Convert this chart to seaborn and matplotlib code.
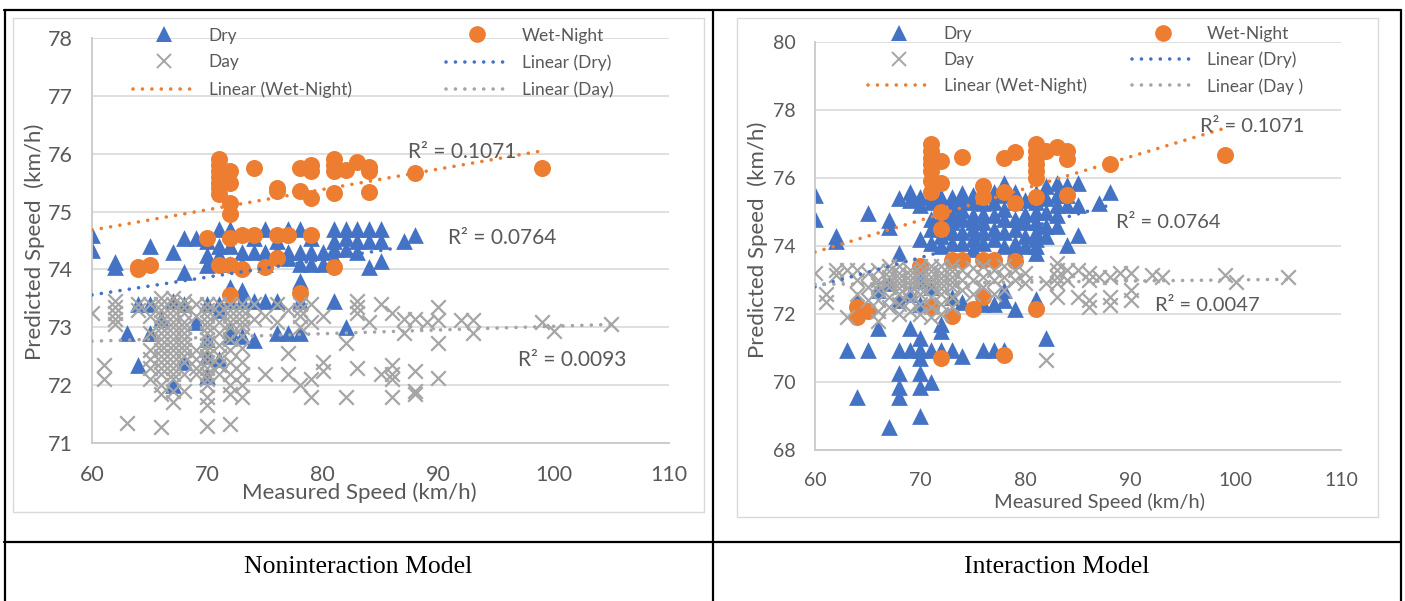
import pandas as pd
import matplotlib.pyplot as plt
from matplotlib.lines import Line2D
from matplotlib.patches import Rectangle
import seaborn as sns

sns.set_style('white')
plt.rcParams['font.family'] = ['Lato', 'DejaVu Sans']

BLUE = '#4472C4'
ORANGE = '#ED7D31'
GRAY = '#A5A5A5'
TEXT = '#595959'
GRID = '#D9D9D9'

# ---- noninteraction model: (measured, predicted) ----
dry_noint = [
    (60, 74.6), (60, 74.33), (62, 74.12), (62, 74.05), (63, 72.9), (64, 73.4), (64, 72.35),
    (65, 74.4), (65, 73.4), (65, 72.9), (66, 73.15), (67, 74.3), (67, 73.45), (67, 72.0),
    (68, 74.55), (68, 73.95), (68, 73.4), (68, 72.4), (69, 74.55), (69, 73.1),
    (70, 74.5), (70, 74.25), (70, 74.07), (70, 73.4), (70, 72.8), (70, 72.5), (70, 72.15),
    (71, 74.7), (71, 74.4), (71, 74.25), (71, 73.4), (71, 73.3), (71, 72.45),
    (72, 74.7), (72, 74.63), (72, 74.4), (72, 74.1), (72, 73.7), (72, 73.45), (72, 72.95), (72, 72.85),
    (73, 74.3), (73, 74.1), (73, 73.65), (73, 73.45), (73, 72.85),
    (74, 74.55), (74, 74.3), (74, 73.45), (74, 72.78),
    (75, 74.7), (75, 74.3), (75, 74.1), (75, 73.45),
    (76, 74.5), (76, 74.3), (76, 73.45), (76, 72.9),
    (77, 74.7), (77, 74.3), (77, 74.2), (77, 72.9),
    (78, 74.7), (78, 74.3), (78, 74.1), (78, 73.8), (78, 73.45), (78, 72.9),
    (79, 74.55), (79, 74.3), (79, 74.1), (80, 74.3), (80, 74.1),
    (81, 74.7), (81, 74.5), (81, 74.35), (81, 74.2), (81, 73.45),
    (82, 74.7), (82, 74.55), (82, 74.35), (82, 73.0),
    (83, 74.7), (83, 74.5), (83, 74.3), (84, 74.7), (84, 74.5), (84, 74.05),
    (85, 74.7), (85, 74.5), (85, 74.15), (87, 74.5), (88, 74.6),
]
wet_noint = [
    (64, 74.05), (64, 74.0), (65, 74.07), (70, 74.55),
    (71, 75.9), (71, 75.8), (71, 75.7), (71, 75.6), (71, 75.5), (71, 75.4), (71, 75.3), (71, 74.07),
    (72, 75.7), (72, 75.5), (72, 75.15), (72, 74.95), (72, 74.55), (72, 74.07), (72, 73.55),
    (73, 74.6), (73, 74.0), (74, 75.75), (74, 74.6), (75, 74.05),
    (76, 75.4), (76, 75.35), (76, 74.6), (76, 74.2), (77, 74.6),
    (78, 75.75), (78, 75.35), (78, 73.6),
    (79, 75.8), (79, 75.7), (79, 75.23), (79, 74.6),
    (81, 75.9), (81, 75.8), (81, 75.7), (81, 75.32), (81, 74.05),
    (82, 75.72), (83, 75.85), (84, 75.77), (84, 75.7), (84, 75.33),
    (88, 75.66), (99, 75.75),
]
day_noint = [
    (60, 73.25), (61, 72.35), (61, 72.1),
    (62, 73.45), (62, 73.35), (62, 73.25), (62, 73.15), (62, 73.05), (63, 71.35),
    (64, 73.4), (64, 73.3), (65, 73.4), (65, 73.2), (65, 72.9), (65, 72.6), (65, 72.45), (65, 72.3), (65, 72.1),
    (66, 73.5), (66, 73.4), (66, 73.3), (66, 73.2), (66, 73.1), (66, 73.0), (66, 72.9), (66, 72.8), (66, 72.7),
    (66, 72.6), (66, 72.5), (66, 72.4), (66, 72.3), (66, 72.2), (66, 72.0), (66, 71.85), (66, 71.28),
    (67, 73.5), (67, 73.4), (67, 73.3), (67, 73.2), (67, 73.1), (67, 73.0), (67, 72.9), (67, 72.8), (67, 72.7),
    (67, 72.6), (67, 72.5), (67, 72.4), (67, 72.3), (67, 72.2), (67, 72.1), (67, 71.9), (67, 71.7),
    (68, 73.45), (68, 73.35), (68, 73.25), (68, 73.1), (68, 73.0), (68, 72.9), (68, 72.8), (68, 72.7),
    (68, 72.6), (68, 72.5), (68, 72.4), (68, 72.2), (68, 71.9),
    (69, 73.4), (69, 73.2), (69, 72.6), (69, 72.45), (69, 72.3), (69, 72.2),
    (70, 73.4), (70, 73.3), (70, 73.2), (70, 73.1), (70, 73.0), (70, 72.9), (70, 72.8), (70, 72.7), (70, 72.6),
    (70, 72.5), (70, 72.4), (70, 72.3), (70, 72.2), (70, 72.1), (70, 72.0), (70, 71.8), (70, 71.65), (70, 71.3),
    (71, 73.4), (71, 73.25), (71, 73.1), (71, 72.9), (71, 72.7), (71, 72.5), (71, 72.35), (71, 72.2),
    (72, 73.4), (72, 73.3), (72, 73.2), (72, 73.1), (72, 73.0), (72, 72.8), (72, 72.6), (72, 72.4), (72, 72.2),
    (72, 72.0), (72, 71.85), (72, 71.33),
    (73, 73.4), (73, 73.3), (73, 73.2), (73, 73.1), (73, 73.0), (73, 72.85), (73, 72.65), (73, 72.4),
    (73, 72.2), (73, 72.0), (73, 71.8),
    (74, 73.4), (74, 73.15), (75, 73.2), (75, 72.2), (76, 73.4), (76, 73.1),
    (77, 73.3), (77, 72.55), (77, 72.2), (78, 73.4), (78, 73.3), (78, 73.2), (78, 73.0), (78, 72.0),
    (79, 73.4), (79, 73.1), (79, 72.1), (79, 71.8), (80, 73.2), (80, 72.4), (80, 72.25),
    (82, 72.72), (82, 71.8), (83, 73.45), (83, 73.35), (83, 73.25), (83, 72.3), (84, 73.1),
    (85, 73.4), (85, 72.2), (86, 73.25), (86, 72.35), (86, 72.2), (86, 72.1), (86, 71.8),
    (87, 73.15), (87, 72.9), (88, 73.15), (88, 72.25), (88, 71.9), (88, 71.85), (89, 73.1),
    (90, 73.35), (90, 73.12), (90, 72.72), (90, 72.12), (92, 73.12), (93, 73.12), (93, 72.9),
    (99, 73.1), (100, 72.93), (105, 73.05),
]
# trend lines: (x, y) at both ends
dry_fit_noint = [(60, 73.56), (88, 74.42)]
wet_fit_noint = [(60, 74.68), (99, 76.05)]
day_fit_noint = [(60, 72.76), (105, 73.05)]
r2_noint = ['0.0764', '0.1071', '0.0093']

# ---- interaction model ----
dry_int = [
    (60, 75.5), (60, 74.8), (62, 74.3), (62, 74.15), (63, 70.95), (64, 72.4), (64, 69.55),
    (65, 74.97), (65, 70.95), (66, 71.6), (66, 72.7), (67, 74.75), (67, 74.55), (67, 72.9), (67, 68.67),
    (68, 75.4), (68, 73.8), (68, 72.4), (68, 70.95), (68, 70.25), (68, 69.85), (68, 69.55),
    (69, 75.6), (69, 75.35), (69, 72.6), (69, 71.6), (69, 70.95),
    (70, 75.45), (70, 75.2), (70, 74.2), (70, 73.0), (70, 72.3), (70, 71.3), (70, 70.95), (70, 70.7), (70, 70.25), (70, 69.85), (70, 69.0),
    (71, 75.5), (71, 75.3), (71, 74.8), (71, 74.5), (71, 74.1), (71, 72.8), (71, 70.95), (71, 70.0),
    (72, 75.45), (72, 75.2), (72, 74.9), (72, 74.6), (72, 74.3), (72, 74.0), (72, 71.7), (72, 71.5), (72, 70.95),
    (73, 75.45), (73, 75.2), (73, 74.95), (73, 74.7), (73, 74.4), (73, 74.1), (73, 72.5), (73, 70.95),
    (74, 75.55), (74, 75.3), (74, 75.05), (74, 74.8), (74, 74.4), (74, 74.1), (74, 72.35), (74, 70.75),
    (75, 75.5), (75, 75.3), (75, 74.9), (75, 74.7), (75, 74.5), (75, 74.2), (75, 73.9),
    (76, 75.5), (76, 75.25), (76, 74.95), (76, 74.7), (76, 74.4), (76, 74.1), (76, 72.3), (76, 70.95),
    (77, 75.6), (77, 75.3), (77, 74.9), (77, 74.5), (77, 74.2), (77, 72.3), (77, 70.95),
    (78, 75.85), (78, 75.5), (78, 75.1), (78, 74.8), (78, 74.4), (78, 74.0), (78, 72.7), (78, 72.4), (78, 70.95),
    (79, 75.6), (79, 75.3), (79, 74.8), (79, 74.5), (79, 74.1), (79, 73.9), (79, 72.15),
    (80, 75.35), (80, 74.95), (80, 74.7), (80, 74.3), (80, 74.0),
    (81, 75.55), (81, 75.3), (81, 75.0), (81, 74.7), (81, 74.4), (81, 74.2), (81, 74.0), (81, 73.8), (81, 72.45),
    (82, 75.75), (82, 75.4), (82, 75.0), (82, 74.6), (82, 74.3), (82, 71.3),
    (83, 75.85), (83, 75.5), (83, 75.2), (83, 74.9), (83, 74.6),
    (84, 75.8), (84, 75.5), (84, 75.2), (84, 74.03), (85, 75.85), (85, 75.2), (85, 74.32),
    (87, 75.26), (88, 75.6),
]
wet_int = [
    (64, 72.2), (64, 71.9), (65, 72.1), (70, 73.4),
    (71, 77.0), (71, 76.8), (71, 76.6), (71, 76.4), (71, 76.2), (71, 75.9), (71, 75.6), (71, 72.2),
    (72, 76.5), (72, 75.85), (72, 75.0), (72, 74.5), (72, 70.7),
    (73, 73.6), (73, 71.95), (74, 76.62), (74, 73.6), (75, 72.15),
    (76, 75.75), (76, 75.45), (76, 73.6), (76, 72.5), (77, 73.6),
    (78, 76.6), (78, 75.6), (78, 70.8), (79, 76.75), (79, 75.25), (79, 73.55),
    (81, 77.0), (81, 76.8), (81, 76.6), (81, 76.4), (81, 76.2), (81, 76.0), (81, 75.45), (81, 72.15),
    (82, 76.8), (83, 76.9), (84, 76.8), (84, 76.55), (84, 75.5),
    (88, 76.42), (99, 76.67),
]
day_int = [
    (60, 73.2), (61, 72.6), (61, 72.35), (62, 73.3), (62, 73.15), (63, 73.3), (63, 71.9),
    (64, 73.3), (64, 73.0), (64, 72.6), (65, 73.2), (65, 72.8), (65, 72.4),
    (66, 73.3), (66, 73.0), (66, 72.85), (66, 72.7), (66, 72.4), (66, 72.1), (66, 71.8),
    (67, 73.4), (67, 73.25), (67, 73.1), (67, 72.95), (67, 72.8), (67, 72.5), (67, 72.2),
    (68, 73.4), (68, 73.2), (68, 73.05), (68, 72.9), (68, 72.75), (68, 72.6), (68, 72.3), (68, 72.0),
    (69, 73.3), (69, 73.15), (69, 73.0), (69, 72.85), (69, 72.7), (69, 72.4), (69, 72.1),
    (70, 73.4), (70, 73.2), (70, 73.05), (70, 72.9), (70, 72.75), (70, 72.6), (70, 72.3), (70, 72.0),
    (71, 73.4), (71, 73.25), (71, 73.1), (71, 72.95), (71, 72.8), (71, 72.5), (71, 72.2), (71, 71.9),
    (72, 73.4), (72, 73.2), (72, 73.05), (72, 72.9), (72, 72.75), (72, 72.6), (72, 72.3), (72, 72.0),
    (73, 73.4), (73, 73.25), (73, 73.1), (73, 72.95), (73, 72.8), (73, 72.5), (73, 72.2),
    (74, 73.3), (74, 73.0), (74, 72.7), (75, 73.35), (75, 73.0), (75, 72.6),
    (76, 73.4), (76, 73.1), (76, 72.8), (77, 73.3), (77, 73.0), (77, 72.6),
    (78, 73.4), (78, 73.1), (78, 72.7), (79, 73.3), (79, 73.0), (80, 73.2), (80, 72.9),
    (82, 72.9), (82, 70.65), (83, 73.5), (83, 73.3), (83, 73.1), (83, 72.9), (83, 72.5),
    (84, 73.3), (84, 73.0), (85, 73.3), (85, 72.5), (86, 73.2), (86, 73.0), (86, 72.4), (86, 72.2),
    (87, 73.1), (88, 73.1), (88, 72.5), (88, 72.27), (89, 73.2), (90, 73.2), (90, 72.7), (90, 72.4),
    (92, 73.15), (93, 73.1), (99, 73.15), (100, 72.95), (105, 73.1),
]
dry_fit_int = [(60, 72.8), (88, 75.2)]
wet_fit_int = [(60, 73.82), (99, 77.47)]
day_fit_int = [(60, 72.87), (105, 73.02)]
r2_int = ['0.0764', '0.1071', '0.0047']

captions = ['Noninteraction Model', 'Interaction Model']

W, H = 1405, 601
fig = plt.figure(figsize=(W / 100, H / 100), dpi=100)


def px_box(x0, y0, x1, y1):
    return [x0 / W, 1 - y1 / H, (x1 - x0) / W, (y1 - y0) / H]


def df(pairs):
    return pd.DataFrame(pairs, columns=['measured', 'predicted'])


DOT = (0, (0.01, 2.6))


def panel(ax, dry, wet, day, fits, ylim, ystep, tick_fs):
    sns.scatterplot(data=df(dry), x='measured', y='predicted', ax=ax, marker='^',
                    s=145, color=BLUE, linewidth=0, zorder=2)
    sns.scatterplot(data=df(wet), x='measured', y='predicted', ax=ax, marker='o',
                    s=150, color=ORANGE, linewidth=0, zorder=3)
    sns.scatterplot(data=df(day), x='measured', y='predicted', ax=ax, marker='x',
                    s=110, color=GRAY, linewidth=1.6, zorder=4)
    for pts, c in zip(fits, [BLUE, ORANGE, GRAY]):
        f = df(pts)
        ax.plot(f['measured'], f['predicted'], color=c, linestyle=DOT,
                linewidth=2.6, dash_capstyle='round', zorder=5)
    ax.set_xlim(60, 110)
    ax.set_ylim(*ylim)
    ax.set_xticks(range(60, 111, 10))
    ax.set_yticks(range(ylim[0], ylim[1] + 1, ystep))
    ax.set_xlabel('')
    ax.set_ylabel('')
    ax.tick_params(length=0, labelsize=tick_fs, colors=TEXT)
    ax.tick_params(axis='x', pad=16)
    ax.tick_params(axis='y', pad=14)
    ax.yaxis.grid(True, color=GRID, linewidth=1.2)
    ax.set_axisbelow(True)
    for s in ['top', 'right']:
        ax.spines[s].set_visible(False)
    for s in ['left', 'bottom']:
        ax.spines[s].set_color('#C9C9C9')
        ax.spines[s].set_linewidth(1.3)


def legend(ax, x0, y0, colspace, rowspace, day_fit_label):
    mk = dict(linestyle='none', markeredgewidth=0)
    ln = dict(linestyle=DOT, linewidth=2.6, dash_capstyle='round')
    handles = [
        Line2D([], [], marker='^', color=BLUE, markersize=11.5, **mk),
        Line2D([], [], marker='x', color=GRAY, markersize=10, linestyle='none', markeredgewidth=1.4),
        Line2D([], [], color=ORANGE, **ln),
        Line2D([], [], marker='o', color=ORANGE, markersize=12, **mk),
        Line2D([], [], color=BLUE, **ln),
        Line2D([], [], color=GRAY, **ln),
    ]
    labels = ['Dry', 'Day', 'Linear (Wet-Night)', 'Wet-Night', 'Linear (Dry)', day_fit_label]
    ax.legend(handles, labels, ncol=2, loc='upper left', bbox_to_anchor=(x0 / W, 1 - y0 / H),
              bbox_transform=fig.transFigure, frameon=False, fontsize=12.5, labelcolor=TEXT,
              handlelength=3.6, handletextpad=0.75, columnspacing=colspace,
              labelspacing=rowspace, borderpad=0, borderaxespad=0, numpoints=1)


ax1 = fig.add_axes(px_box(92, 38, 669, 443))
panel(ax1, dry_noint, wet_noint, day_noint, [dry_fit_noint, wet_fit_noint, day_fit_noint],
      (71, 78), 1, 15.5)
legend(ax1, 133, 27.5, 5.45, 0.62, 'Linear (Day)')
r2_kw = dict(color=TEXT, va='center', ha='left', zorder=6)
ax1.text(90.85, 74.54, 'R² = ' + r2_noint[0], fontsize=15, **r2_kw)
ax1.text(87.4, 76.03, 'R² = ' + r2_noint[1], fontsize=15, **r2_kw)
ax1.text(96.9, 72.43, 'R² = ' + r2_noint[2], fontsize=15, **r2_kw)

ax2 = fig.add_axes(px_box(815, 42, 1341, 450))
panel(ax2, dry_int, wet_int, day_int, [dry_fit_int, wet_fit_int, day_fit_int],
      (68, 80), 2, 14)
legend(ax2, 868, 26, 2.6, 0.56, 'Linear (Day )')
ax2.text(88.6, 74.7, 'R² = ' + r2_int[0], fontsize=14.5, **r2_kw)
ax2.text(96.6, 77.5, 'R² = ' + r2_int[1], fontsize=14.5, **r2_kw)
ax2.text(92.3, 72.26, 'R² = ' + r2_int[2], fontsize=14.5, **r2_kw)

# axis titles
fig.text(359 / W, 1 - 493 / H, 'Measured Speed (km/h)', fontsize=16, color=TEXT, ha='center', va='center')
fig.text(35 / W, 1 - 242 / H, 'Predicted Speed  (km/h)', fontsize=16, color=TEXT, ha='center', va='center', rotation=90)
fig.text(1099 / W, 1 - 502 / H, 'Measured Speed (km/h)', fontsize=14.5, color=TEXT, ha='center', va='center')
fig.text(758 / W, 1 - 240 / H, 'Predicted Speed  (km/h)', fontsize=16, color=TEXT, ha='center', va='center', rotation=90)

# chart frames
for x0, y0, x1, y1 in [(13, 18, 704, 512), (737, 18, 1378, 517)]:
    fig.add_artist(Rectangle((x0 / W, 1 - y1 / H), (x1 - x0) / W, (y1 - y0) / H,
                             transform=fig.transFigure, fill=False, edgecolor=GRID, linewidth=1))

# table rules
rule = dict(color='black', linewidth=1.6, transform=fig.transFigure)
fig.add_artist(Line2D([4 / W, 1401 / W], [1 - 10 / H] * 2, **rule))
fig.add_artist(Line2D([4 / W, 1401 / W], [1 - 542 / H] * 2, **rule))
for xv in [4.5, 712.5, 1401]:
    fig.add_artist(Line2D([xv / W] * 2, [0, 1 - 10 / H], **rule))

for cx, txt in zip([358, 1057], captions):
    fig.text(cx / W, 1 - 567 / H, txt, fontsize=18.5, family='Liberation Serif',
             color='black', ha='center', va='center')

fig.savefig('out.png', dpi=100)
